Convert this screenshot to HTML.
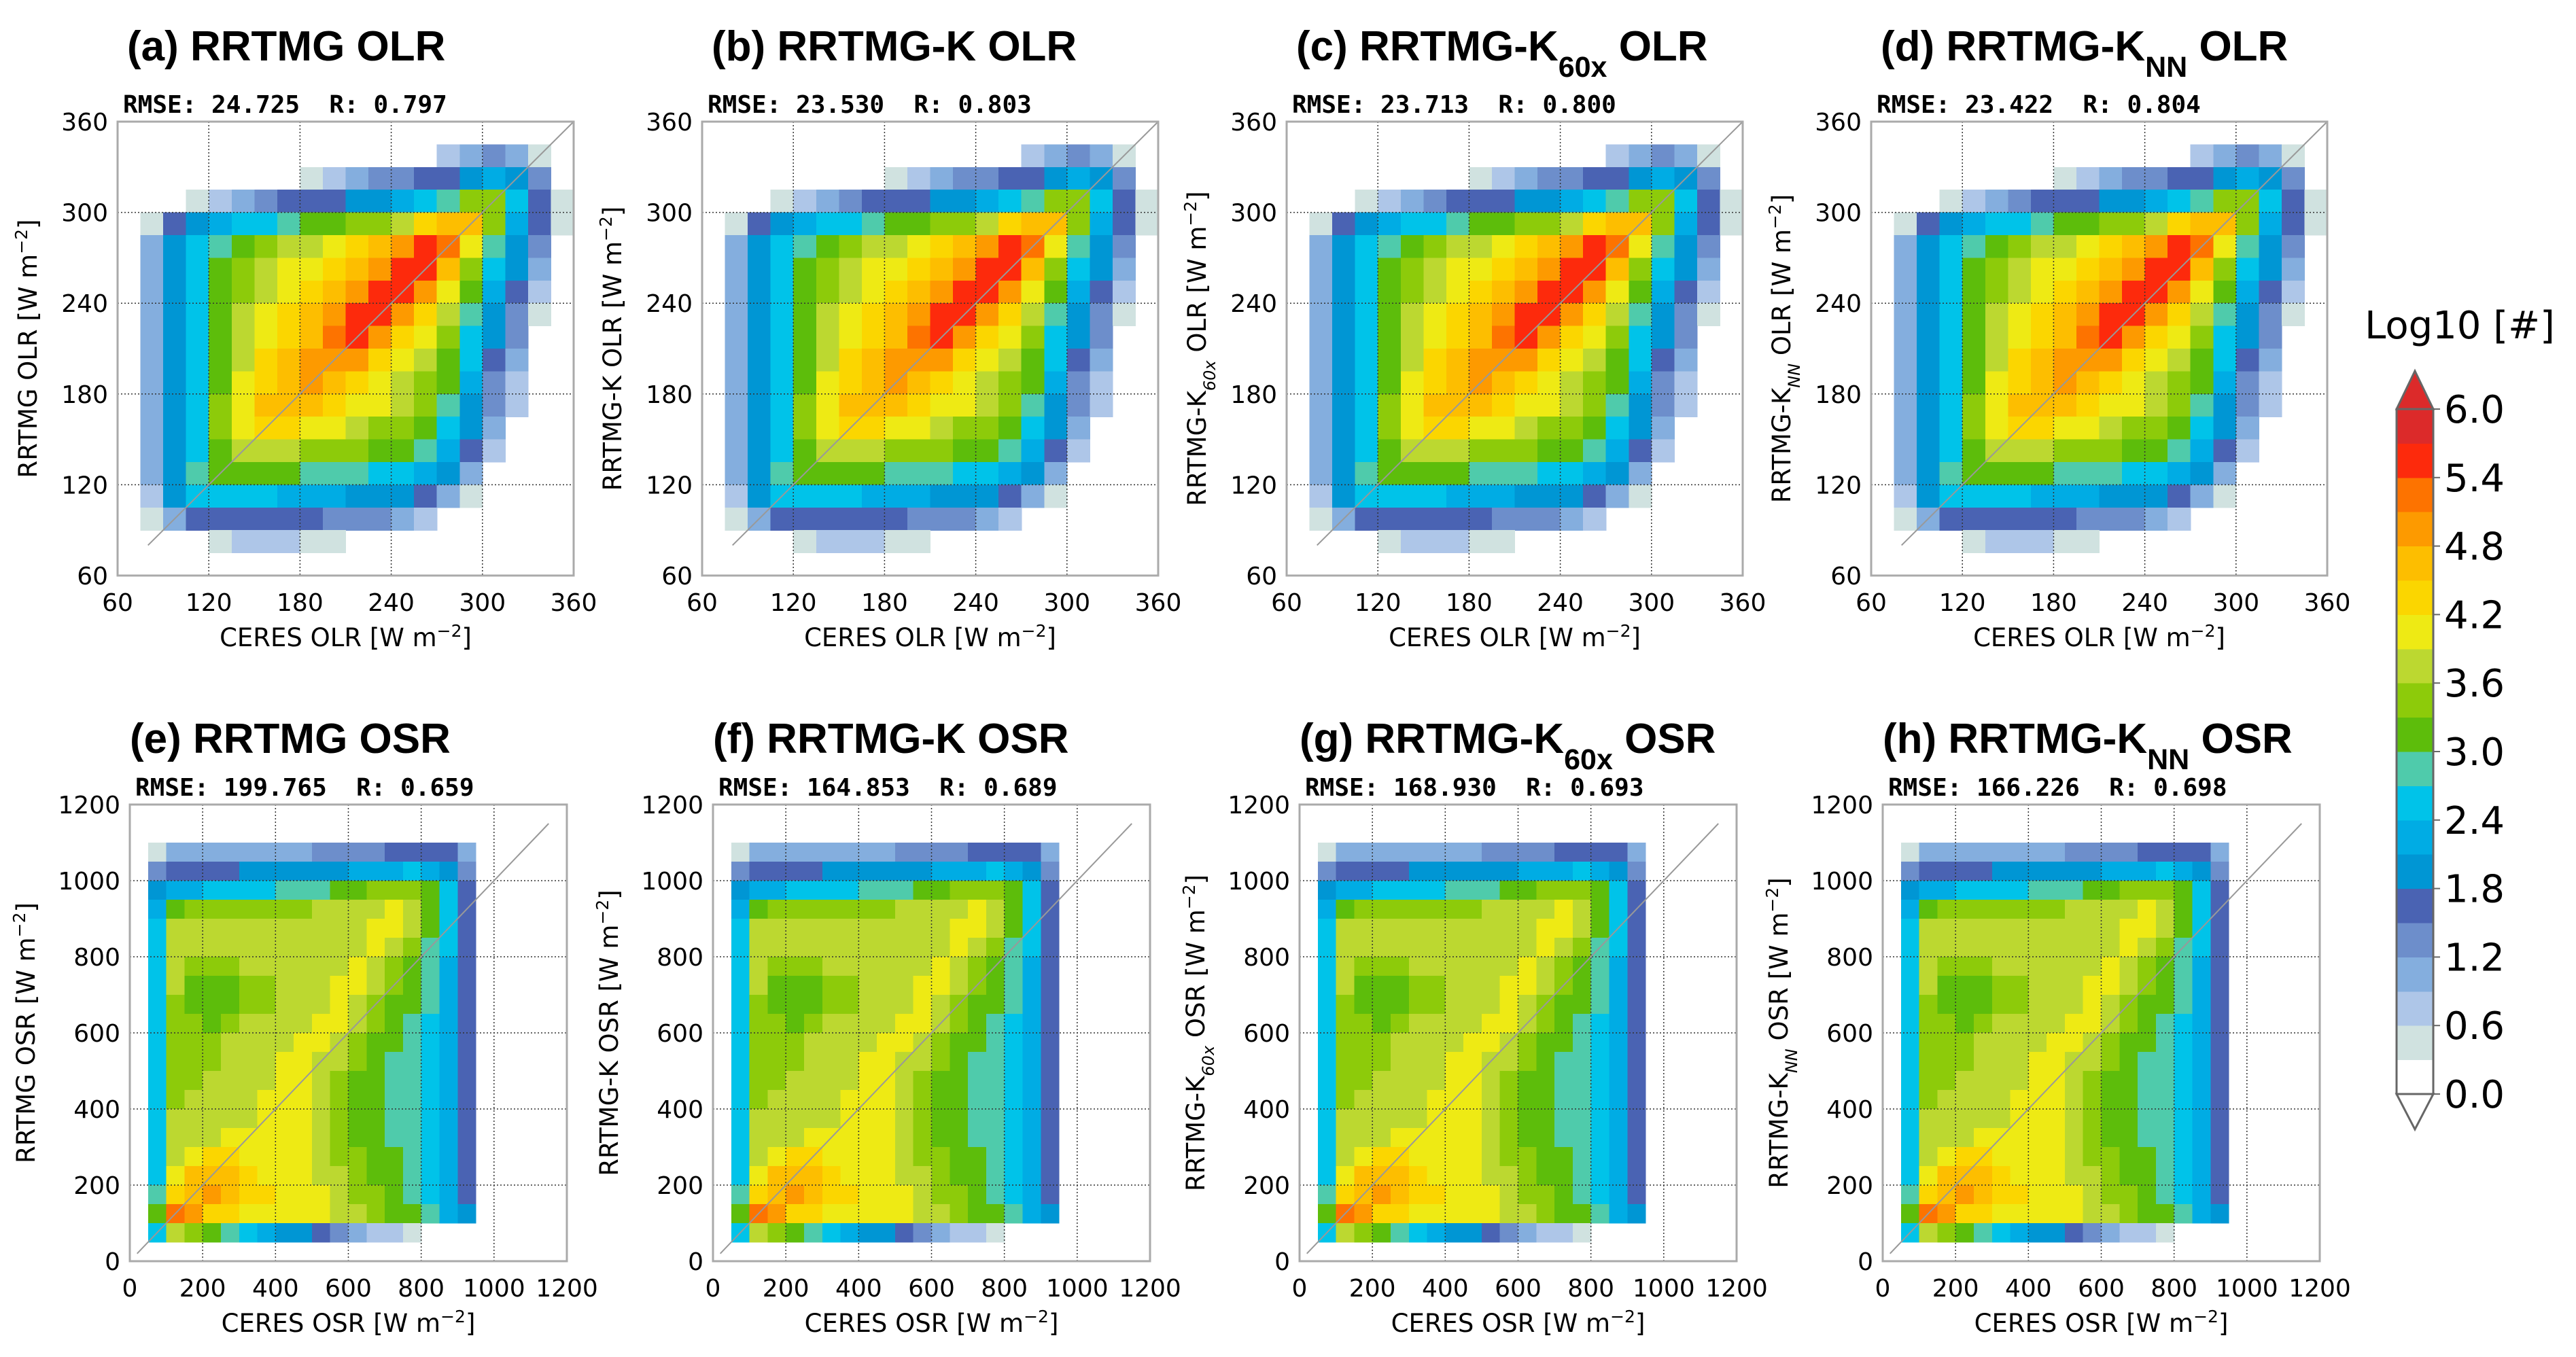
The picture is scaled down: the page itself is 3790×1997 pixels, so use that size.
<!DOCTYPE html>
<html><head><meta charset="utf-8">
<style>
body{margin:0;background:#fff;}
svg{display:block;}
.ttl{font-family:"Liberation Sans",sans-serif;font-weight:bold;font-size:62px;}
.rm{font-family:"DejaVu Sans Mono","Liberation Mono",monospace;font-weight:bold;font-size:36px;}
.tk{font-family:"DejaVu Sans","Liberation Sans",sans-serif;font-size:36px;}
.al{font-family:"DejaVu Sans","Liberation Sans",sans-serif;font-size:37px;}
.cb{font-family:"DejaVu Sans","Liberation Sans",sans-serif;font-size:56px;}
</style></head>
<body>
<svg id="fig" width="3790" height="1997" viewBox="0 0 3790 1997" xmlns="http://www.w3.org/2000/svg"></svg>
<script>
// ---- data ----
const colorLevels = [0,0.3,0.6,0.9,1.2,1.5,1.8,2.1,2.4,2.7,3.0,3.3,3.6,3.9,4.2,4.5,4.8,5.1,5.4,5.7,6.0];
const binColors = ["#ffffff","#d0e2e0","#aec6e8","#84aede","#6d8ecb","#4a63b3","#0096d4","#00ace4","#00c3e9","#4fcbab","#5dbd0b","#8dcb0a","#bcd830","#eeea14","#fbd600","#fdbe00","#fd9a00","#fd7300","#fd2a0c","#dc2a2a","#dc2a2a"];
const cbTicks = ["0.0","0.6","1.2","1.8","2.4","3.0","3.6","4.2","4.8","5.4","6.0"];
const olrTicks = [60,120,180,240,300,360];
const osrTicks = [0,200,400,600,800,1000,1200];
// log10 counts; OLR grid: 20x20 cells of 15 W/m2, rows top(360) -> bottom(60), cols 60 -> 360
const olrGrid = [
[0,0,0,0,0,0,0,0,0,0,0,0,0,0,0,0,0,0,0,0],
[0,0,0,0,0,0,0,0,0,0,0,0,0,0,0.6,1.0,1.2,1.0,0.5,0],
[0,0,0,0,0,0,0,0,0.5,0.8,1.0,1.2,1.3,1.5,1.7,2.0,2.3,2.0,1.4,0],
[0,0,0,0.5,0.8,1.0,1.3,1.5,1.6,1.7,1.8,2.0,2.1,2.4,2.8,3.4,3.5,2.6,1.7,0.3],
[0,0.5,1.6,2.0,2.3,2.5,2.6,2.8,3.0,3.1,3.3,3.5,3.8,4.2,4.7,4.5,3.3,2.3,1.5,0.5],
[0,1.0,1.9,2.5,2.9,3.2,3.4,3.6,3.8,4.0,4.2,4.5,4.9,5.5,5.3,4.0,2.8,2.0,1.2,0],
[0,1.0,2.0,2.6,3.1,3.4,3.7,3.9,4.1,4.3,4.6,5.0,5.6,5.4,4.6,3.4,2.4,1.8,1.0,0],
[0,1.0,2.0,2.6,3.1,3.5,3.8,4.0,4.3,4.6,5.0,5.6,5.5,4.8,4.0,3.0,2.2,1.6,0.8,0],
[0,1.0,2.0,2.6,3.1,3.6,3.9,4.2,4.5,4.9,5.6,5.5,4.8,4.3,3.6,2.7,2.0,1.4,0.5,0],
[0,1.0,2.0,2.6,3.2,3.7,4.0,4.4,4.7,5.3,5.4,4.9,4.4,4.0,3.4,2.5,1.8,1.2,0,0],
[0,1.0,2.0,2.6,3.2,3.8,4.2,4.5,4.8,5.0,4.8,4.4,4.1,3.7,3.2,2.4,1.6,1.0,0,0],
[0,1.0,2.0,2.6,3.2,3.9,4.3,4.6,4.8,4.6,4.3,4.1,3.8,3.5,3.0,2.2,1.4,0.8,0,0],
[0,1.0,2.0,2.6,3.3,4.0,4.5,4.7,4.5,4.3,4.1,3.9,3.6,3.3,2.8,2.0,1.2,0.6,0,0],
[0,1.0,2.0,2.6,3.3,4.0,4.4,4.3,4.1,3.9,3.7,3.5,3.3,3.0,2.6,1.8,1.0,0,0,0],
[0,1.0,2.0,2.6,3.2,3.7,3.8,3.7,3.5,3.4,3.3,3.1,3.0,2.8,2.3,1.5,0.8,0,0,0],
[0,1.0,2.0,2.7,3.1,3.2,3.1,3.0,2.9,2.8,2.7,2.6,2.5,2.3,1.8,1.0,0,0,0,0],
[0,0.8,1.8,2.5,2.5,2.4,2.4,2.3,2.2,2.1,2.0,1.9,1.8,1.5,1.0,0.4,0,0,0,0],
[0,0.5,1.0,1.6,1.7,1.7,1.6,1.6,1.5,1.4,1.3,1.2,1.0,0.6,0,0,0,0,0,0],
[0,0,0,0,0.5,0.7,0.7,0.6,0.5,0.4,0,0,0,0,0,0,0,0,0,0],
[0,0,0,0,0,0,0,0,0,0,0,0,0,0,0,0,0,0,0,0]];
// OSR grid: 24x24 cells of 50 W/m2, rows top(1200) -> bottom(0), cols 0 -> 1200 (cols beyond 19 empty)
const osrGrid = [
[0,0,0,0,0,0,0,0,0,0,0,0,0,0,0,0,0,0,0,0],
[0,0,0,0,0,0,0,0,0,0,0,0,0,0,0,0,0,0,0,0],
[0,0.5,0.9,0.9,0.9,0.9,0.9,1.0,1.0,1.1,1.2,1.3,1.3,1.4,1.5,1.6,1.7,1.6,0.9,0],
[0,1.3,1.6,1.7,1.7,1.7,1.8,1.8,1.9,1.9,2.0,2.0,2.1,2.2,2.3,2.4,2.3,2.0,1.4,0],
[0,1.8,2.2,2.3,2.4,2.5,2.5,2.6,2.7,2.8,2.9,3.0,3.2,3.3,3.4,3.3,3.0,2.4,1.7,0],
[0,2.3,3.2,3.3,3.3,3.3,3.4,3.4,3.5,3.5,3.6,3.7,3.7,3.8,3.9,3.7,3.2,2.4,1.7,0],
[0,2.5,3.7,3.7,3.7,3.7,3.7,3.7,3.7,3.7,3.7,3.7,3.8,4.0,4.0,3.6,3.1,2.4,1.7,0],
[0,2.5,3.8,3.6,3.7,3.7,3.7,3.7,3.7,3.7,3.7,3.7,3.8,4.0,3.7,3.3,2.9,2.4,1.7,0],
[0,2.5,3.7,3.4,3.3,3.4,3.6,3.7,3.7,3.7,3.7,3.8,4.0,3.8,3.4,3.2,2.8,2.3,1.6,0],
[0,2.5,3.6,3.2,3.2,3.2,3.3,3.5,3.7,3.7,3.7,3.9,4.0,3.6,3.3,3.1,2.7,2.3,1.6,0],
[0,2.5,3.5,3.2,3.2,3.2,3.3,3.5,3.7,3.7,3.8,4.0,3.8,3.5,3.2,3.0,2.7,2.3,1.6,0],
[0,2.5,3.5,3.3,3.2,3.4,3.6,3.7,3.7,3.8,4.0,3.9,3.6,3.3,3.1,2.9,2.6,2.2,1.6,0],
[0,2.5,3.5,3.3,3.4,3.6,3.7,3.7,3.8,4.0,4.0,3.7,3.5,3.2,3.0,2.8,2.6,2.2,1.6,0],
[0,2.5,3.5,3.4,3.5,3.7,3.7,3.7,3.9,4.0,3.8,3.6,3.3,3.1,2.9,2.8,2.6,2.2,1.6,0],
[0,2.5,3.5,3.5,3.6,3.7,3.7,3.8,4.0,4.0,3.7,3.5,3.2,3.1,2.9,2.7,2.5,2.2,1.6,0],
[0,2.5,3.5,3.6,3.7,3.7,3.7,3.9,4.0,3.9,3.7,3.5,3.2,3.1,2.9,2.7,2.5,2.2,1.6,0],
[0,2.5,3.6,3.7,3.7,3.7,3.8,4.0,4.0,3.9,3.7,3.5,3.2,3.1,2.9,2.7,2.5,2.2,1.6,0],
[0,2.5,3.7,3.7,3.8,4.0,4.0,4.0,4.0,3.9,3.7,3.5,3.2,3.1,2.9,2.7,2.5,2.2,1.6,0],
[0,2.5,3.8,4.1,4.3,4.3,4.1,4.0,4.0,3.9,3.7,3.5,3.3,3.1,3.0,2.8,2.5,2.2,1.6,0],
[0,2.6,4.1,4.5,4.7,4.5,4.3,4.1,4.0,4.0,3.8,3.6,3.4,3.2,3.0,2.8,2.5,2.2,1.6,0],
[0,2.7,4.4,4.7,4.8,4.5,4.3,4.2,4.1,4.0,3.9,3.7,3.5,3.3,3.1,2.9,2.6,2.2,1.6,0],
[0,3.0,5.3,4.8,4.4,4.2,4.1,4.1,4.0,4.0,3.9,3.8,3.6,3.4,3.2,3.0,2.7,2.3,1.8,0],
[0,2.6,3.7,3.3,3.0,2.8,2.4,2.2,2.0,1.8,1.5,1.2,1.0,0.8,0.6,0.5,0,0,0,0],
[0,0,0,0,0,0,0,0,0,0,0,0,0,0,0,0,0,0,0,0]];
const panelLetters = ["a","b","c","d","e","f","g","h"];
const panelModels = ["RRTMG","RRTMG-K","RRTMG-K","RRTMG-K","RRTMG","RRTMG-K","RRTMG-K","RRTMG-K"];
const panelSubs = ["","","60x","NN","","","60x","NN"];
const rmseValues = ["24.725","23.530","23.713","23.422","199.765","164.853","168.930","166.226"];
const rValues = ["0.797","0.803","0.800","0.804","0.659","0.689","0.693","0.698"];

// ---- layout ----
const NS="http://www.w3.org/2000/svg";
const svg=document.getElementById('fig');
function mk(tag,attrs,parent){const e=document.createElementNS(NS,tag);for(const k in attrs)e.setAttribute(k,attrs[k]);(parent||svg).appendChild(e);return e;}
const topLefts=[173,1033,1893,2753], botLefts=[191,1049,1912,2770];
function colorFor(v){let b=0;for(let i=0;i<colorLevels.length;i++){if(v>=colorLevels[i])b=i;}return binColors[Math.min(b,binColors.length-1)];}

function labelWithSub(textEl,pre,sub,post,subSize,italic){
  textEl.appendChild(document.createTextNode(pre));
  if(sub){const s=document.createElementNS(NS,'tspan');s.setAttribute('baseline-shift','sub');s.setAttribute('font-size',subSize);if(italic)s.setAttribute('font-style','italic');s.textContent=sub;textEl.appendChild(s);}
  const p=document.createElementNS(NS,'tspan');p.textContent=post;textEl.appendChild(p);
}

for(let p=0;p<8;p++){
  const isTop=p<4, col=p%4;
  const L=isTop?topLefts[col]:botLefts[col];
  const T=isTop?179:1184, W=isTop?671:643, H=isTop?668:672;
  const vmin=isTop?60:0, vmax=isTop?360:1200;
  const ticks=isTop?olrTicks:osrTicks, grid=isTop?olrGrid:osrGrid;
  const step=isTop?15:50;
  const sx=v=>L+(v-vmin)/(vmax-vmin)*W, sy=v=>T+H-(v-vmin)/(vmax-vmin)*H;
  const g=mk('g',{});
  
  
  const hg=mk('g',{'shape-rendering':'crispEdges'},g);
  
  
  for(let r=0;r<grid.length;r++){
    for(let c=0;c<grid[r].length;c++){
      const v=grid[r][c]; if(v<0.3) continue;
      const x0=vmin+c*step, y1=vmax-r*step;
      const cell=mk('rect',{x:sx(x0),y:sy(y1),width:sx(x0+step)-sx(x0)+0.6,height:sy(y1-step)-sy(y1)+0.6,fill:colorFor(v)},hg);
      
      
    }
  }
  ticks.forEach(t=>{
    if(t>vmin&&t<vmax){
      const gl=mk('line',{x1:sx(t),x2:sx(t),y1:T,y2:T+H,stroke:'#333','stroke-width':1.5,'stroke-dasharray':'2,3'},g);
      
      const gh=mk('line',{x1:L,x2:L+W,y1:sy(t),y2:sy(t),stroke:'#333','stroke-width':1.5,'stroke-dasharray':'2,3'},g);
      
    }
  });
  const d0=isTop?80:20, d1=isTop?360:1150;
  const dl=mk('line',{x1:sx(d0),y1:sy(d0),x2:sx(d1),y2:sy(d1),stroke:'#999','stroke-width':2},g);
  
  const fr=mk('rect',{x:L,y:T,width:W,height:H,fill:'none',stroke:'#aaa','stroke-width':3},g);
  
  ticks.forEach(t=>{
    const xt=mk('text',{x:sx(t),y:T+H+52,'text-anchor':'middle',class:'tk'},g);xt.textContent=t;
    
    const yt=mk('text',{x:L-14,y:sy(t)+13,'text-anchor':'end',class:'tk'},g);yt.textContent=t;
    
  });
  const qty=isTop?'OLR':'OSR';
  const xl=mk('text',{x:L+W/2,y:T+H+104,'text-anchor':'middle',class:'al'},g);
  labelWithSub(xl,'CERES '+qty+' [W m','','',0,false);
  const e1=document.createElementNS(NS,'tspan');e1.setAttribute('baseline-shift','super');e1.setAttribute('font-size','25');e1.textContent='\u22122';xl.appendChild(e1);
  const e2=document.createElementNS(NS,'tspan');e2.textContent=']';xl.appendChild(e2);
  
  const yx=isTop?L-119:L-140, yc=T+H/2;
  const yl=mk('text',{x:yx,y:yc,'text-anchor':'middle',class:'al',transform:'rotate(-90 '+yx+' '+yc+')'},g);
  labelWithSub(yl,panelModels[p],panelSubs[p],' '+qty+' [W m',24,true);
  const e3=document.createElementNS(NS,'tspan');e3.setAttribute('baseline-shift','super');e3.setAttribute('font-size','25');e3.textContent='\u22122';yl.appendChild(e3);
  const e4=document.createElementNS(NS,'tspan');e4.textContent=']';yl.appendChild(e4);
  
  const tt=mk('text',{x:isTop?L+14:L,y:isTop?89:1108,class:'ttl'},g);
  labelWithSub(tt,'('+panelLetters[p]+') '+panelModels[p],panelSubs[p],' '+qty,43,false);
  
  const st=mk('text',{x:L+8,y:T-13,class:'rm','xml:space':'preserve'},g);
  st.textContent='RMSE: '+rmseValues[p]+'  R: '+rValues[p];
  st.setAttribute('style','white-space:pre');
  
}

// ---- colorbar ----
const cbX=3526, cbW=54, cbTop=602, cbBot=1610;
const cy=v=>cbBot-(v/6)*(cbBot-cbTop);
const cg=mk('g',{'shape-rendering':'crispEdges'});


for(let i=0;i<20;i++){
  const r=mk('rect',{x:cbX,y:cy(colorLevels[i+1]),width:cbW,height:cy(colorLevels[i])-cy(colorLevels[i+1])+0.5,fill:binColors[i]},cg);
  
}
const tip=mk('polygon',{points:`${cbX},${cbTop} ${cbX+cbW/2},${cbTop-56} ${cbX+cbW},${cbTop}`,fill:binColors[20],stroke:'#666','stroke-width':3});

const btip=mk('polygon',{points:`${cbX},${cbBot} ${cbX+cbW/2},${cbBot+52} ${cbX+cbW},${cbBot}`,fill:'#fff',stroke:'#666','stroke-width':3});

const cfr=mk('rect',{x:cbX,y:cbTop,width:cbW,height:cbBot-cbTop,fill:'none',stroke:'#666','stroke-width':3});

cbTicks.forEach(t=>{
  const v=parseFloat(t);
  const tl=mk('line',{x1:cbX+cbW,x2:cbX+cbW+10,y1:cy(v),y2:cy(v),stroke:'#666','stroke-width':2});
  
  const tx=mk('text',{x:3596,y:cy(v)+20,class:'cb'});tx.textContent=t;
  
});
const ct=mk('text',{x:3619,y:498,'text-anchor':'middle',class:'cb'});ct.textContent='Log10 [#]';

</script>
</body></html>
